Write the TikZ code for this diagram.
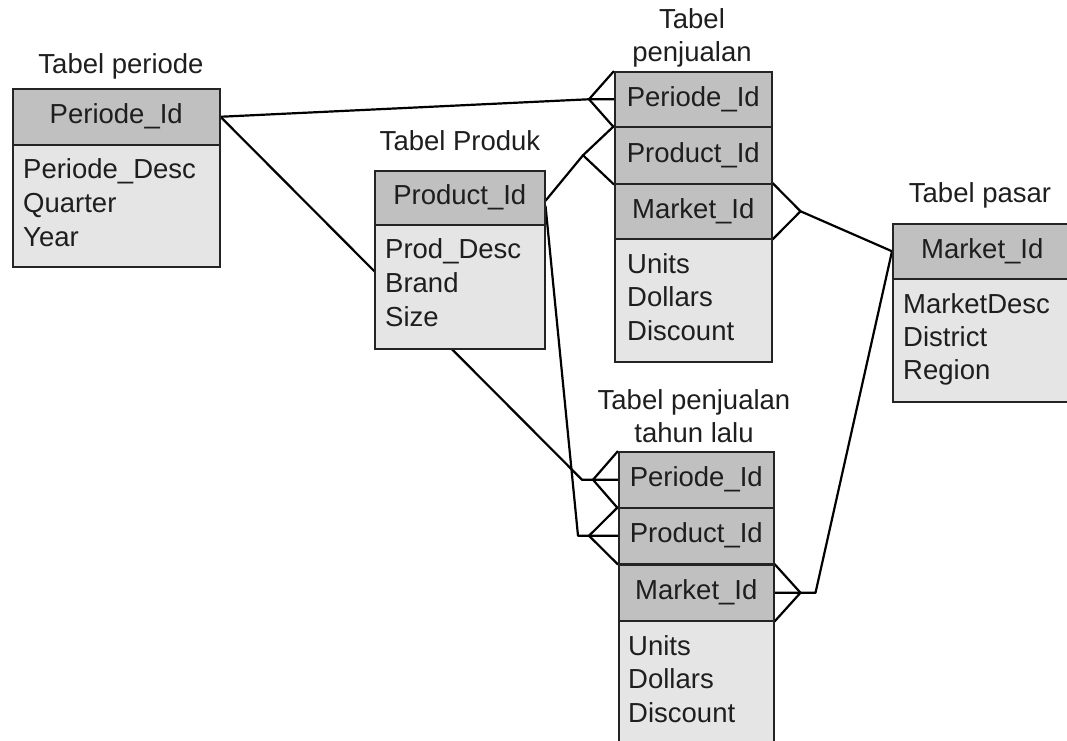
\documentclass[tikz,border=0pt]{standalone}
\usepackage{fontspec}
\setmainfont{Liberation Sans}
\usetikzlibrary{backgrounds}
\definecolor{hdrfill}{RGB}{192,192,192}
\definecolor{bodyfill}{RGB}{229,229,229}
\definecolor{boxline}{RGB}{36,36,36}
\definecolor{ink}{RGB}{30,30,30}
\begin{document}
\begin{tikzpicture}[x=1pt,y=-1pt,
  txt/.style={font=\fontsize{27.5}{34}\selectfont, text=ink},
  title/.style={txt, anchor=base, inner sep=0pt},
  field/.style={txt, anchor=base west, inner sep=0pt},
  hdr/.style={txt, draw=boxline, line width=1.5pt, fill=hdrfill, inner sep=0pt, anchor=north west},
  body/.style={draw=boxline, line width=1.5pt, fill=bodyfill, inner sep=0pt, anchor=north west},
  conn/.style={draw=black, line width=2.2pt, line join=round}]
\clip (0,0) rectangle (1067,740);

% Tabel periode
\node[title] (per-t) at (121,73) {Tabel periode};
\node[hdr, minimum width=207pt, minimum height=56pt] (per-h) at (12,88) {Periode\_Id};
\node[body, minimum width=207pt, minimum height=122pt] (per-b) at (12,144) {};
\foreach \t [count=\i] in {Periode\_Desc, Quarter, Year}
  \node[field] (per-f\i) at (23,{178+34*(\i-1)}) {\t};

% Tabel Produk
\node[title] (pr-t) at (460,150) {Tabel Produk};
\node[hdr, minimum width=170pt, minimum height=54pt] (pr-h) at (374,170) {Product\_Id};
\node[body, minimum width=170pt, minimum height=124pt] (pr-b) at (374,224) {};
\foreach \t [count=\i] in {Prod\_Desc, Brand, Size}
  \node[field] (pr-f\i) at (385,{258+34*(\i-1)}) {\t};

% Tabel penjualan
\node[title] (pj-t1) at (692,28) {Tabel};
\node[title] (pj-t2) at (692,61) {penjualan};
\node[hdr, minimum width=157pt, minimum height=55pt] (pj-per) at (614,71) {Periode\_Id};
\node[hdr, minimum width=157pt, minimum height=57pt] (pj-pro) at (614,126) {Product\_Id};
\node[hdr, minimum width=157pt, minimum height=55pt] (pj-mkt) at (614,183) {Market\_Id};
\node[body, minimum width=157pt, minimum height=123pt] (pj-b) at (614,238) {};
\foreach \t [count=\i] in {Units, Dollars, Discount}
  \node[field] (pj-f\i) at (627,{273+33.5*(\i-1)}) {\t};

% Tabel pasar
\node[title] (ps-t) at (980,202) {Tabel pasar};
\node[hdr, minimum width=179pt, minimum height=55pt] (ps-h) at (892,223) {Market\_Id};
\node[body, minimum width=179pt, minimum height=123pt] (ps-b) at (892,278) {};
\foreach \t [count=\i] in {MarketDesc, District, Region}
  \node[field] (ps-f\i) at (903,{313+33*(\i-1)}) {\t};

% Tabel penjualan tahun lalu
\node[title] (pl-t1) at (694,409) {Tabel penjualan};
\node[title] (pl-t2) at (694,442) {tahun lalu};
\node[hdr, minimum width=155pt, minimum height=56pt] (pl-per) at (618,451) {Periode\_Id};
\node[hdr, minimum width=155pt, minimum height=56pt] (pl-pro) at (618,507) {Product\_Id};
\node[hdr, minimum width=155pt, minimum height=56pt] (pl-mkt) at (618,564) {Market\_Id};
\node[body, minimum width=155pt, minimum height=140pt] (pl-b) at (618,620) {};
\foreach \t [count=\i] in {Units, Dollars, Discount}
  \node[field] (pl-f\i) at (628,{655+33.5*(\i-1)}) {\t};

% Relationships (many side drawn as a crow's foot)
\begin{scope}[on background layer]
  % periode -> penjualan
  \draw[conn] (per-h.east) -- ([xshift=-25pt]pj-per.west) -- (pj-per.west);
  \draw[conn] (pj-per.north west) -- ([xshift=-25pt]pj-per.west) -- (pj-per.south west);
  % periode -> penjualan tahun lalu
  \draw[conn] (per-h.east) -- ([xshift=-36pt]pl-per.west) -- (pl-per.west);
  \draw[conn] (pl-per.north west) -- ([xshift=-25pt]pl-per.west) -- (pl-per.south west);
  % produk -> penjualan
  \draw[conn] ([yshift=-3pt]pr-h.east) -- ([xshift=-31pt]pj-pro.west);
  \draw[conn] (pj-pro.north west) -- ([xshift=-31pt]pj-pro.west) -- (pj-pro.south west);
  % produk -> penjualan tahun lalu
  \draw[conn] ([yshift=-8pt]pr-h.east) -- ([xshift=-40pt]pl-pro.west) -- (pl-pro.west);
  \draw[conn] (pl-pro.north west) -- ([xshift=-29pt]pl-pro.west) -- (pl-pro.south west);
  % pasar -> penjualan
  \draw[conn] (ps-h.west) -- ([xshift=28pt]pj-mkt.east);
  \draw[conn] (pj-mkt.north east) -- ([xshift=28pt]pj-mkt.east) -- (pj-mkt.south east);
  % pasar -> penjualan tahun lalu
  \draw[conn] (ps-h.west) -- ([xshift=41pt]pl-mkt.east) -- (pl-mkt.east);
  \draw[conn] (pl-mkt.north east) -- ([xshift=26pt]pl-mkt.east) -- (pl-mkt.south east);
\end{scope}
\end{tikzpicture}
\end{document}
